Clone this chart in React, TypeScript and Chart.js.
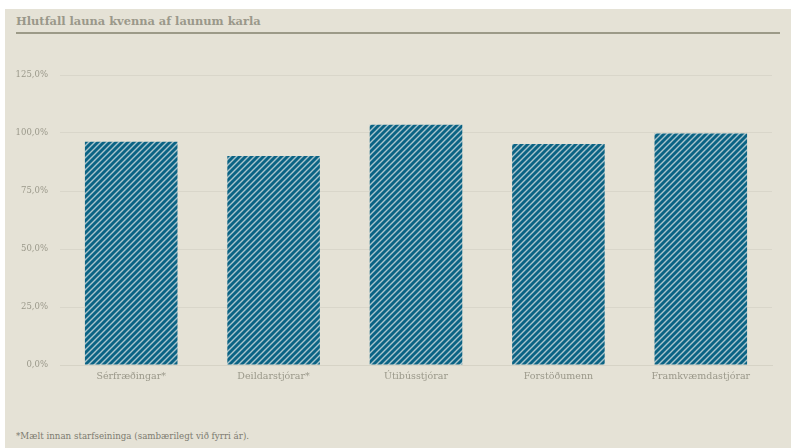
import React, { useEffect, useRef } from "react";
import { Chart, registerables } from "chart.js";

Chart.register(...registerables);

const categories = ["Sérfræðingar*", "Deildarstjórar*", "Útibússtjórar", "Forstöðumenn", "Framkvæmdastjórar"];
const ratios = [96.2, 90.1, 103.6, 95.3, 99.8];
const titleText = "Hlutfall launa kvenna af launum karla";
const footnoteText = "*Mælt innan starfseininga (sambærilegt við fyrri ár).";

const BG = "#e5e2d6";
const TEXT = "#9a988a";
const FONT = "'DejaVu Serif', serif";

function makePattern(): CanvasPattern | string {
  const c = document.createElement("canvas");
  c.width = 6;
  c.height = 6;
  const ctx = c.getContext("2d");
  if (!ctx) return "#0b6384";
  ctx.fillStyle = "#0b6384";
  ctx.fillRect(0, 0, 6, 6);
  ctx.strokeStyle = "#a9c4cc";
  ctx.lineWidth = 1.4;
  ctx.beginPath();
  ctx.moveTo(-1, 7);
  ctx.lineTo(7, -1);
  ctx.moveTo(-4, 4);
  ctx.lineTo(4, -4);
  ctx.moveTo(2, 10);
  ctx.lineTo(10, 2);
  ctx.stroke();
  const p = ctx.createPattern(c, "repeat");
  return p || "#0b6384";
}

export default function App() {
  const ref = useRef<HTMLCanvasElement>(null);
  useEffect(() => {
    if (!ref.current) return;
    const pattern = makePattern();
    const chart = new Chart(ref.current, {
      type: "bar",
      data: {
        labels: categories,
        datasets: [
          {
            data: ratios,
            backgroundColor: pattern as any,
            borderWidth: 0,
            categoryPercentage: 1,
            barPercentage: 0.65,
          },
        ],
      },
      options: {
        animation: false,
        responsive: false,
        maintainAspectRatio: false,
        layout: { padding: { top: 35, right: 19, left: 0, bottom: 0 } },
        plugins: { legend: { display: false }, tooltip: { enabled: false }, title: { display: false } },
        scales: {
          x: {
            grid: { display: false, drawTicks: false },
            border: { display: true, color: "#d6d3c6", width: 1 },
            ticks: { color: TEXT, font: { family: FONT, size: 9.5 }, padding: 6, maxRotation: 0 },
            afterFit: (s: any) => {
              s.height = 35;
            },
          },
          y: {
            min: 0,
            max: 125,
            grid: { color: "#d9d6ca", drawTicks: false, lineWidth: 1 },
            border: { display: false },
            ticks: {
              stepSize: 25,
              color: TEXT,
              font: { family: FONT, size: 8.5 },
              padding: 12,
              callback: (v: any) => Number(v).toFixed(1).replace(".", ",") + "%",
            },
            afterFit: (s: any) => {
              s.width = 55;
            },
          },
        },
      },
    });
    return () => chart.destroy();
  }, []);

  return (
    <div style={{ position: "fixed", left: 5, top: 9, width: 786, height: 439, background: BG, overflow: "hidden" }}>
      <div
        style={{
          position: "absolute",
          left: 11,
          top: 5,
          fontFamily: FONT,
          fontWeight: "bold",
          fontSize: 11.4,
          color: TEXT,
          whiteSpace: "nowrap",
        }}
      >
        {titleText}
      </div>
      <div style={{ position: "absolute", left: 11, top: 23, width: 764, height: 2, background: "#9c9a88" }} />
      <canvas ref={ref} width={786} height={360} style={{ position: "absolute", left: 0, top: 31 }} />
      <div
        style={{
          position: "absolute",
          left: 11,
          top: 422,
          fontFamily: FONT,
          fontSize: 8.7,
          color: "#7d7b70",
          whiteSpace: "nowrap",
        }}
      >
        {footnoteText}
      </div>
    </div>
  );
}
